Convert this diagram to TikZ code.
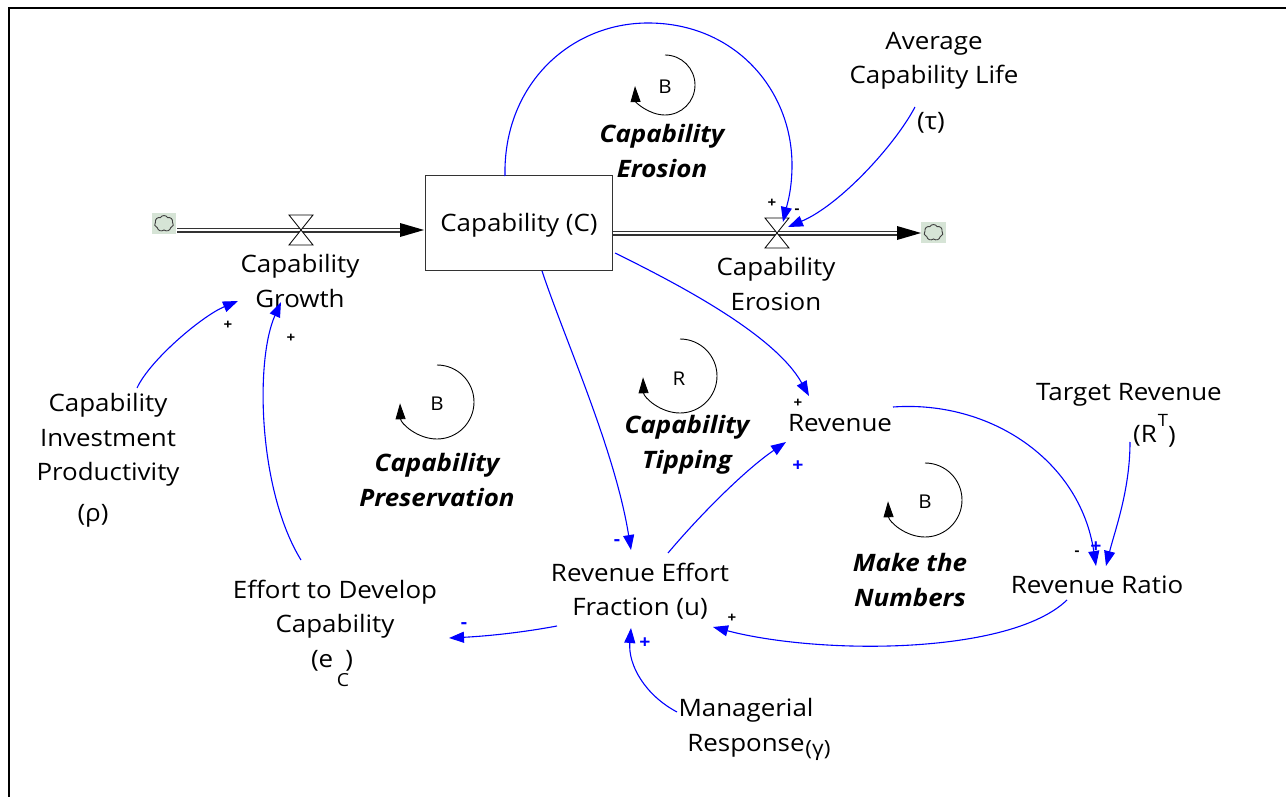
\documentclass[tikz,border=0pt]{standalone}
\usepackage{fontspec}
\setmainfont{Open Sans}[FakeStretch=1.08]
\usetikzlibrary{arrows.meta,shapes.symbols}
\definecolor{cloudbg}{RGB}{214,228,214}
\definecolor{linkblue}{RGB}{0,0,255}
\begin{document}
\begin{tikzpicture}[x=1pt,y=-1pt,
  lbl/.style={font=\fontsize{24}{34.5}\selectfont, align=center, inner sep=0pt},
  looplbl/.style={font=\fontsize{24}{35}\selectfont\bfseries\itshape, align=center, inner sep=0pt},
  loopletter/.style={font=\fontsize{19}{19}\selectfont, inner sep=0pt},
  link/.style={draw=linkblue, line width=1.1pt, -{Triangle[length=15pt,width=11pt]}},
  looparrow/.style={draw=black, line width=0.9pt, -{Triangle[length=16pt,width=10pt]}},
  pipe/.style={draw=black!80, line width=1.2pt, double=white, double distance=2.6pt},
  valve/.style={draw=black, line width=0.8pt, fill=white},
  polk/.style={font=\fontsize{14}{14}\selectfont\bfseries, text=black, inner sep=0pt},
  polb/.style={font=\fontsize{18}{18}\selectfont\bfseries, text=linkblue, inner sep=0pt},
  cloudsrc/.style={cloud, cloud puffs=7, cloud puff arc=120, aspect=1.2, draw=black!75, line width=0.9pt, minimum width=19pt, minimum height=16pt, inner sep=0pt, outer sep=0pt}
]
\useasboundingbox (0,0) rectangle (1286,797);
\fill[white] (0,0) rectangle (1286,797);
% frame
\draw[line width=2.4pt] (9,800) -- (9,8) -- (1290,8);

% clouds
\fill[cloudbg] (152,213) rectangle (176,234);
\node[cloudsrc] (cl1) at (164,223.5) {};
\fill[cloudbg] (921,222) rectangle (946,243);
\node[cloudsrc] (cl2) at (933.5,232.5) {};

% stock
\node[draw=black!80, line width=1pt, minimum width=187pt, minimum height=94pt, inner sep=0pt] (stock) at (518.5,223) {};
\node[lbl] (stocklbl) at (519,225) {Capability (C)};

% pipes
\coordinate (p1a) at (177,230);
\coordinate (p1b) at (401,230);
\draw[pipe] (p1a) -- (p1b);
\fill[black] (400,223) -- (424,230) -- (400,237) -- cycle;
\coordinate (p2a) at (613,233);
\coordinate (p2b) at (898,233);
\draw[pipe] (p2a) -- (p2b);
\fill[black] (897,226) -- (921,233) -- (897,240) -- cycle;

% valves
\coordinate (v1) at (301,230);
\draw[valve] (289,215) -- (313,215) -- (289,245) -- (313,245) -- cycle;
\coordinate (v2) at (777,233);
\draw[valve] (765,218) -- (789,218) -- (765,248) -- (789,248) -- cycle;

% variables
\node[lbl] (growth) at (300,281) {Capability\\Growth};
\node[lbl] (erosion) at (776,284) {Capability\\Erosion};
\node[lbl] (life) at (934,61) {Average\\Capability Life};
\node[lbl] (tau) at (931,123) {(τ)};
\node[lbl] (prod) at (108,440) {Capability\\Investment\\Productivity};
\node[lbl] (rho) at (93,516) {(ρ)};
\node[lbl] (effort) at (335,609) {Effort to Develop\\Capability};
\node[lbl] (ec) at (332,661) {(e\hspace{0.5em})};
\node[font=\fontsize{18}{18}\selectfont, inner sep=0pt] (ecsub) at (343,680) {C};
\node[lbl] (ref) at (640,591) {Revenue Effort\\Fraction (u)};
\node[lbl] (mgr) at (746,728) {Managerial\\Response};
\node[font=\fontsize{21}{21}\selectfont, inner sep=0pt] (gam) at (818,751) {(γ)};
\node[lbl] (rev) at (840,423) {Revenue};
\node[lbl] (target) at (1129,395) {Target Revenue};
\node[lbl] (rt) at (1145,436) {(R};
\node[font=\fontsize{17}{17}\selectfont, inner sep=0pt] (rtsup) at (1163,420) {T};
\node[lbl] (rtclose) at (1172,437) {)};
\node[lbl] (ratio) at (1097,585) {Revenue Ratio};

% loop labels
\node[looplbl] (leros) at (662,151) {Capability\\Erosion};
\node[looplbl] (lpres) at (437,480) {Capability\\Preservation};
\node[looplbl] (ltip) at (687,445) {Capability\\Tipping};
\node[looplbl] (lnum) at (910,580) {Make the\\Numbers};

% loop markers
\node[loopletter] (b1) at (665,87) {B};
\draw[looparrow] (665,55) arc[start angle=90, end angle=-178, radius=30pt];
\node[loopletter] (b2) at (437,404) {B};
\draw[looparrow] (437,365) arc[start angle=90, end angle=-178, radius=37pt];
\node[loopletter] (r1) at (679,379) {R};
\draw[looparrow] (680,339) arc[start angle=90, end angle=-178, radius=37pt];
\node[loopletter] (b3) at (925,502) {B};
\draw[looparrow] (925,463) arc[start angle=90, end angle=-178, radius=37pt];

% link endpoints
\coordinate (e1s) at (137,388);  \coordinate (e1e) at (238,301);
\coordinate (e2s) at (301,560);  \coordinate (e2e) at (281,302);
\coordinate (e3s) at (542,271);  \coordinate (e3e) at (631,550);
\coordinate (e4s) at (615,253);  \coordinate (e4e) at (809,396);
\coordinate (e5s) at (668,553);  \coordinate (e5e) at (786,442);
\coordinate (e6s) at (893,407);  \coordinate (e6e) at (1096,566);
\coordinate (e7s) at (1130,442); \coordinate (e7e) at (1106,566);
\coordinate (e8s) at (1067,600); \coordinate (e8e) at (713,627);
\coordinate (e9s) at (557,626);  \coordinate (e9e) at (449,638);
\coordinate (e10s) at (677,712); \coordinate (e10e) at (631,628);
\coordinate (e11s) at (915,107); \coordinate (e11e) at (788,227);
\coordinate (e12s) at (505,176); \coordinate (e12e) at (783,222);

% links
\draw[link] (e1s) .. controls (150,360) and (202,316) .. (e1e);
\draw[link] (e2s) .. controls (258,490) and (255,360) .. (e2e);
\draw[link] (e3s) .. controls (565,340) and (615,450) .. (e3e);
\draw[link] (e4s) .. controls (680,285) and (775,335) .. (e4e);
\draw[link] (e5s) .. controls (700,515) and (745,470) .. (e5e);
\draw[link] (e6s) .. controls (990,400) and (1080,460) .. (e6e);
\draw[link] (e7s) .. controls (1130,490) and (1115,530) .. (e7e);
\draw[link] (e8s) .. controls (1010,655) and (820,655) .. (e8e);
\draw[link] (e9s) .. controls (525,632) and (490,636) .. (e9e);
\draw[link] (e10s) .. controls (645,695) and (628,665) .. (e10e);
\draw[link] (e11s) .. controls (895,145) and (840,205) .. (e11e);
\draw[link] (e12s) .. controls (503,85) and (570,23) .. (648,23)
  .. controls (735,23) and (792,90) .. (792,165)
  .. controls (792,190) and (787,205) .. (e12e);

% polarities
\node[polk] (s1) at (228,325) {+};
\node[polk] (s2) at (291,338) {+};
\node[polk] (s3) at (798,403) {+};
\node[polk] (s4) at (772,203) {+};
\node[polk] (s5) at (797,211) {-};
\node[polk] (s6) at (732,618) {+};
\node[polk] (s7) at (1077,553) {-};
\node[polb] (s8) at (798,466) {+};
\node[polb] (s9) at (645,643) {+};
\node[polb] (s10) at (1096,547) {+};
\node[polb] (s11) at (617,543) {-};
\node[polb] (s12) at (464,626) {-};
\end{tikzpicture}
\end{document}
